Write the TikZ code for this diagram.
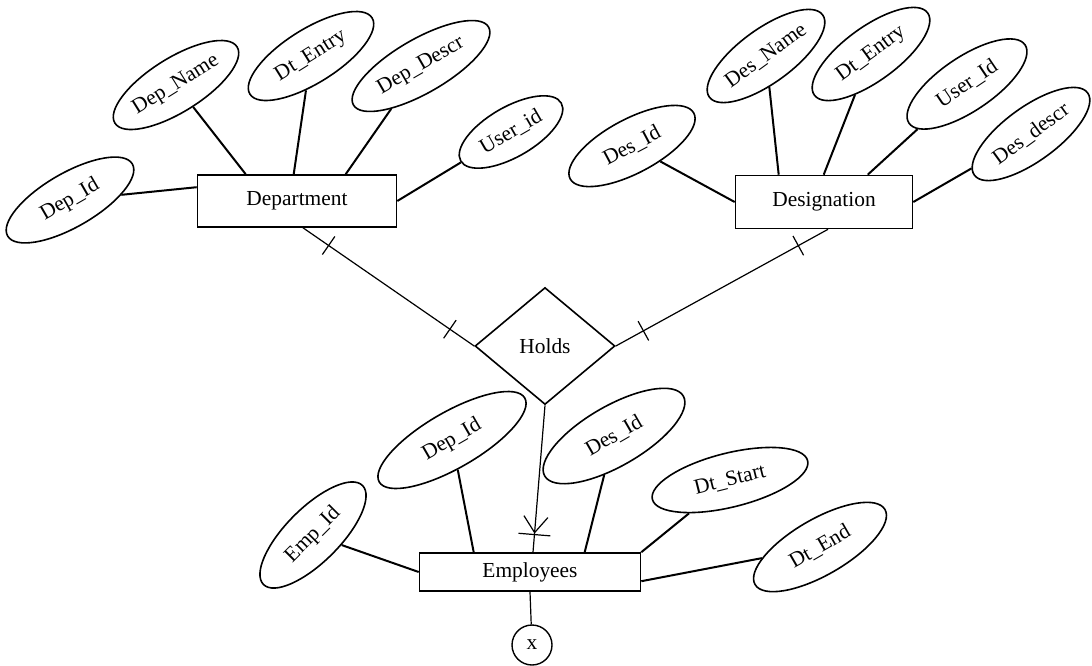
\documentclass[tikz,border=0pt]{standalone}
\usepackage{fontspec}
\setmainfont{Liberation Serif}
\usetikzlibrary{shapes.geometric, decorations.markings, positioning}
\newcommand{\erfont}{\fontsize{10.7}{12}\selectfont}
\tikzset{
    entitynode/.style = {draw, rectangle, line width=0.8pt, inner sep=0pt, node distance=0em, font=\erfont},
    relnode/.style = {draw, diamond, line width=0.8pt, inner sep=0pt, node distance=0em,
      minimum width=70pt, minimum height=58.5pt, font=\erfont},
    ellipsenode/.style = {draw, ellipse, line width=0.8pt, inner sep=0pt, node distance=0em,
      minimum width=72pt, minimum height=27pt, font=\erfont},
    circlenode/.style = {draw, circle, line width=0.7pt, inner sep=0pt, node distance=0em,
      minimum size=20pt, font=\erfont},
    attrline/.style = {line width=1pt},
    relline/.style = {line width=0.6pt},
    tickpair/.style 2 args = {decoration={markings,
        mark=at position #1 with {\draw[line width=0.6pt] (0,-5.5pt) -- (0,5.5pt);},
        mark=at position #2 with {\draw[line width=0.6pt] (0,-5.5pt) -- (0,5.5pt);}},
      postaction={decorate}},
    crowfoot/.style = {decoration={markings,
        mark=at position #1 with {\draw[line width=0.6pt] (0,-8pt) -- (0,8pt);
          \draw[line width=0.6pt] (-9pt,6pt) -- (-1pt,0pt) -- (-9pt,-6pt);}},
      postaction={decorate}}
}
\begin{document}
\begin{tikzpicture}
    \useasboundingbox (0,0) rectangle (546pt,-332.5pt);

    \node [name=Holds, relnode] at (272.5pt,-173pt) {Holds};
    \node [name=Department, entitynode, left of = Holds, xshift=-124pt, yshift=72.5pt,
      minimum width=99.5pt, minimum height=26pt] {Department};
    \node [name=Designation, entitynode, right of = Holds, xshift=139.5pt, yshift=72pt,
      minimum width=88.5pt, minimum height=26.5pt] {Designation};
    \node [name=Employees, entitynode, below of = Holds, xshift=-7.5pt, yshift=-113pt,
      minimum width=110.5pt, minimum height=19pt] {Employees};
    \node [name=X, circlenode, below of = Employees, xshift=1pt, yshift=-36.5pt] {x};

    % Department attributes
    \node [name=DepId, ellipsenode, left of = Department, xshift=-113.5pt, yshift=0.5pt, rotate=30] {Dep\_Id};
    \node [name=DepName, ellipsenode, above of = Department, xshift=-60.5pt, yshift=58pt, rotate=32] {Dep\_Name};
    \node [name=DepEntry, ellipsenode, above of = Department, xshift=7pt, yshift=72.5pt, rotate=32] {Dt\_Entry};
    \node [name=DepDescr, ellipsenode, above of = Department, xshift=62pt, yshift=67.5pt, rotate=30,
      minimum width=78pt] {Dep\_Descr};
    \node [name=DepUser, ellipsenode, right of = Department, xshift=107pt, yshift=34.5pt, rotate=30,
      minimum width=58pt, minimum height=25pt] {User\_id};

    \draw (DepId) edge[attrline] ([yshift=-6.5pt]Department.north west);
    \draw (DepName) edge[attrline] ([xshift=24.5pt]Department.north west);
    \draw (DepEntry) edge[attrline] ([xshift=48.5pt]Department.north west);
    \draw (DepDescr) edge[attrline] ([xshift=74.5pt]Department.north west);
    \draw (DepUser) edge[attrline] (Department.east);

    % Designation attributes
    \node [name=DesId, ellipsenode, left of = Designation, xshift=-96pt, yshift=28pt, rotate=28,
      minimum width=70pt] {Des\_Id};
    \node [name=DesName, ellipsenode, above of = Designation, xshift=-29pt, yshift=73pt, rotate=36,
      minimum width=70pt] {Des\_Name};
    \node [name=DesEntry, ellipsenode, above of = Designation, xshift=23.5pt, yshift=74pt, rotate=36,
      minimum width=70pt] {Dt\_Entry};
    \node [name=DesUser, ellipsenode, above of = Designation, xshift=71.5pt, yshift=59pt, rotate=34,
      minimum width=70pt] {User\_Id};
    \node [name=DesDescr, ellipsenode, right of = Designation, xshift=103.5pt, yshift=34pt, rotate=36,
      minimum width=70pt] {Des\_descr};

    \draw (DesId) edge[attrline] (Designation.west);
    \draw (DesName) edge[attrline] ([xshift=22pt]Designation.north west);
    \draw (DesEntry) edge[attrline] ([xshift=44.5pt]Designation.north west);
    \draw (DesUser) edge[attrline] ([xshift=66.5pt]Designation.north west);
    \draw (DesDescr) edge[attrline] (Designation.east);

    % Employees attributes
    \node [name=EmpId, ellipsenode, left of = Employees, xshift=-108.5pt, yshift=18.5pt, rotate=45,
      minimum width=70pt] {Emp\_Id};
    \node [name=EmpDep, ellipsenode, above of = Employees, xshift=-39pt, yshift=66pt, rotate=30,
      minimum width=84pt, minimum height=28pt] {Dep\_Id};
    \node [name=EmpDes, ellipsenode, above of = Employees, xshift=42pt, yshift=68pt, rotate=30,
      minimum width=80pt, minimum height=30pt] {Des\_Id};
    \node [name=EmpStart, ellipsenode, right of = Employees, xshift=100pt, yshift=46pt, rotate=14,
      minimum width=80pt] {Dt\_Start};
    \node [name=EmpEnd, ellipsenode, right of = Employees, xshift=145pt, yshift=12.5pt, rotate=30,
      minimum width=75pt, minimum height=28pt] {Dt\_End};

    \draw (EmpId) edge[attrline] (Employees.west);
    \draw (EmpDep) edge[attrline] ([xshift=27.5pt]Employees.north west);
    \draw (EmpDes) edge[attrline] ([xshift=83pt]Employees.north west);
    \draw (EmpStart) edge[attrline] (Employees.north east);
    \draw (EmpEnd) edge[attrline] ([yshift=-14.5pt]Employees.north east);

    % relationship
    \draw [relline, tickpair={0.15}{0.86}] ([xshift=3pt]Department.south) -- (Holds.west);
    \draw [relline, tickpair={0.14}{0.87}] ([xshift=2pt]Designation.south) -- (Holds.east);
    \draw [relline, crowfoot=0.88] (Holds.south) -- ([xshift=1.5pt]Employees.north);
    \draw [relline] (Employees.south) -- (X);
\end{tikzpicture}
\end{document}
